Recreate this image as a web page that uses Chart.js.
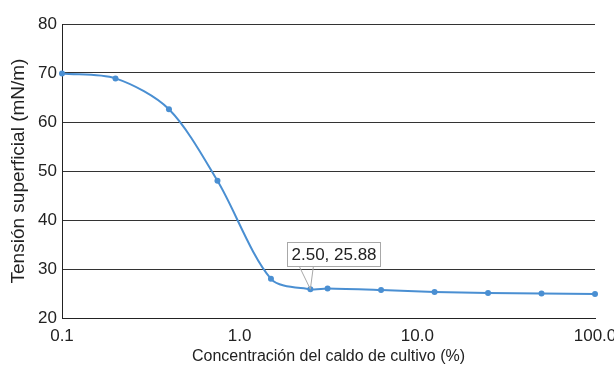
<!DOCTYPE html>
<html>
<head>
<meta charset="utf-8">
<script src="https://cdn.jsdelivr.net/npm/chart.js@4.4.1/dist/chart.umd.min.js"></script>
<style>
html,body{margin:0;padding:0;background:#fff;}
#wrap{width:614px;height:371px;position:relative;}
</style>
</head>
<body>
<div id="wrap"><canvas id="c" width="614" height="371"></canvas></div>
<script>
// Data
const concentration = [0.1, 0.2, 0.4, 0.75, 1.5, 2.5, 3.125, 6.25, 12.5, 25, 50, 100];
const tension = [69.9, 68.9, 62.6, 48.0, 28.0, 25.88, 26.0, 25.7, 25.3, 25.1, 25.0, 24.9];
const xTickValues = [0.1, 1, 10, 100];
const xTickLabels = ['0.1', '1.0', '10.0', '100.0'];
const yTickValues = [20, 30, 40, 50, 60, 70, 80];
const annotatedIndex = 5;

const FONT = '"Liberation Sans", Arial, Helvetica, sans-serif';
const TEXT = '#222222';
const LINE = '#4a8fd2';

const calloutPlugin = {
  id: 'callout',
  afterDatasetsDraw(chart) {
    const meta = chart.getDatasetMeta(0);
    const pt = meta.data[annotatedIndex];
    if (!pt) return;
    const ctx = chart.ctx;
    const px = pt.x, py = pt.y;
    const label = concentration[annotatedIndex].toFixed(2) + ', ' + tension[annotatedIndex].toFixed(2);
    ctx.save();
    ctx.font = '17px ' + FONT;
    const tw = ctx.measureText(label).width;
    const bx = Math.round(px - 23) + 0.5;
    const by = Math.round(py - 47) + 0.5;
    const bw = Math.round(tw + 8);
    const bh = 24;
    ctx.strokeStyle = '#a8a8a8';
    ctx.lineWidth = 1;
    ctx.beginPath();
    ctx.moveTo(px - 11, by + bh);
    ctx.lineTo(px, py);
    ctx.lineTo(px + 3, by + bh);
    ctx.stroke();
    ctx.fillStyle = '#ffffff';
    ctx.fillRect(bx, by, bw, bh);
    ctx.strokeRect(bx, by, bw, bh);
    ctx.fillStyle = TEXT;
    ctx.textBaseline = 'middle';
    ctx.textAlign = 'left';
    ctx.fillText(label, bx + 4, by + bh / 2 + 1);
    ctx.restore();
  }
};

new Chart(document.getElementById('c'), {
  type: 'line',
  data: {
    datasets: [{
      data: concentration.map((x, i) => ({x: x, y: tension[i]})),
      borderColor: LINE,
      backgroundColor: LINE,
      borderWidth: 2,
      pointRadius: 3,
      pointHoverRadius: 3,
      pointBorderWidth: 0,
      tension: 0.3,
      fill: false,
      clip: false
    }]
  },
  options: {
    responsive: false,
    animation: false,
    devicePixelRatio: 1,
    layout: {padding: {left: 0, right: 19, top: 24, bottom: 0}},
    plugins: {legend: {display: false}, tooltip: {enabled: false}},
    scales: {
      x: {
        type: 'logarithmic',
        min: 0.1,
        max: 100,
        afterBuildTicks(scale) {
          scale.ticks = xTickValues.map(v => ({value: v}));
        },
        afterFit(scale) {
          scale.height = 53;
          scale.paddingRight = 0;
          scale.paddingLeft = 0;
        },
        grid: {display: false, drawTicks: false},
        border: {display: true, color: '#222', width: 1},
        ticks: {
          autoSkip: false,
          maxRotation: 0,
          padding: 8,
          color: TEXT,
          font: {family: FONT, size: 17},
          callback: (v, i) => xTickLabels[i]
        },
        title: {
          display: true,
          text: 'Concentración del caldo de cultivo (%)',
          color: TEXT,
          font: {family: FONT, size: 16},
          padding: {top: 0, bottom: 5}
        }
      },
      y: {
        type: 'linear',
        min: 20,
        max: 80,
        afterBuildTicks(scale) {
          scale.ticks = yTickValues.map(v => ({value: v}));
        },
        afterFit(scale) {
          scale.width = 62;
          scale.paddingTop = 0;
          scale.paddingBottom = 0;
        },
        grid: {display: true, color: '#333', lineWidth: 1, drawTicks: false},
        border: {display: true, color: '#222', width: 1},
        ticks: {
          padding: 5,
          color: TEXT,
          font: {family: FONT, size: 17}
        },
        title: {
          display: true,
          text: 'Tensión superficial (mN/m)',
          color: TEXT,
          font: {family: FONT, size: 19},
          padding: {top: 7, bottom: 0}
        }
      }
    }
  },
  plugins: [calloutPlugin]
});
</script>
</body>
</html>
